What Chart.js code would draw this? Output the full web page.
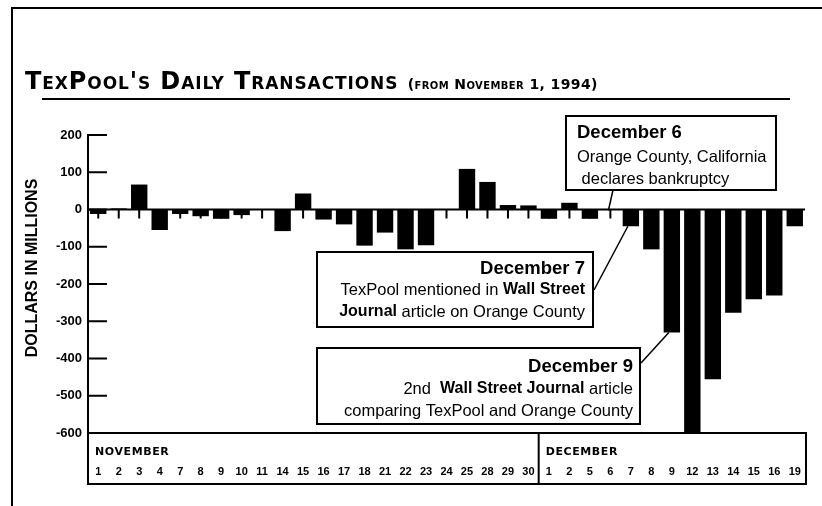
<!DOCTYPE html>
<html>
<head>
<meta charset="utf-8">
<script src="https://cdn.jsdelivr.net/npm/chart.js@4.4.0/dist/chart.umd.min.js"></script>
<style>
  body { margin: 0; background: #fff; }
  #wrap { position: relative; width: 822px; height: 506px; overflow: hidden; }
  #title {
    position: absolute; left: 25px; top: 70px; line-height: 23px;
    font-family: "DejaVu Sans", sans-serif; font-weight: bold; font-variant: small-caps;
    font-size: 24px; letter-spacing: 0.9px; white-space: nowrap; color: #000;
  }
  #title span { font-size: 14px; letter-spacing: 0.4px; }
  canvas { position: absolute; left: 0; top: 0; }
</style>
</head>
<body>
<div id="wrap">
  <canvas id="txChart" width="822" height="506"></canvas>
  <div id="title">TexPool's Daily Transactions <span>(from November 1, 1994)</span></div>
</div>
<script>
// business days, Nov 1 - Dec 19 1994
const days = ["1", "2", "3", "4", "7", "8", "9", "10", "11", "14", "15", "16", "17", "18",
  "21", "22", "23", "24", "25", "28", "29", "30",
  "1", "2", "5", "6", "7", "8", "9", "12", "13", "14", "15", "16", "19"];
const months = ["NOVEMBER", "DECEMBER"];
const monthStart = [0, 22];

// net daily flow, $ millions
const flows = [-12, 3, 67, -55, -12, -18, -25, -15, 0, -58, 43, -27, -40, -97,
  -62, -107, -96, 0, 109, 74, 12, 11,
  -25, 18, -25, 0, -45, -107, -330, -600, -456, -277, -241, -231, -45];

const yMin = -600;
const yMax = 200;
const yStep = 100;

// callouts: which day they point at + text lines
const notes = [
  {
    day: 25, atZero: true,
    box: [566, 116, 776, 190], align: "left", textX: 577, lineY: [133, 157, 179],
    from: [613, 190],
    lines: [
      [{ t: "December 6", head: true }],
      [{ t: "Orange County, California" }],
      [{ t: " declares bankruptcy" }],
    ],
  },
  {
    day: 26,
    box: [317, 252, 593, 327], align: "right", textX: 585, lineY: [269, 290, 312],
    from: [594, 290],
    lines: [
      [{ t: "December 7", head: true }],
      [{ t: "TexPool mentioned in " }, { t: "Wall Street", b: true }],
      [{ t: "Journal", b: true }, { t: " article on Orange County" }],
    ],
  },
  {
    day: 28,
    box: [317, 348, 640, 424], align: "right", textX: 633, lineY: [367, 389, 411],
    from: [641, 363],
    lines: [
      [{ t: "December 9", head: true }],
      [{ t: "2nd  " }, { t: "Wall Street Journal", b: true }, { t: " article" }],
      [{ t: "comparing TexPool and Orange County" }],
    ],
  },
];

const FONT = "'Liberation Sans', Arial, sans-serif";

function segFont(s) {
  if (s.head) return "bold 18.5px " + FONT;
  if (s.b) return "bold 16px " + FONT;
  return "16.5px " + FONT;
}

const decor = {
  id: "decor",
  afterDatasetsDraw(chart) {
    const ctx = chart.ctx;
    const area = chart.chartArea;
    const xs = chart.scales.x;
    const ys = chart.scales.y;
    const y0 = ys.getPixelForValue(0);
    ctx.save();
    ctx.strokeStyle = "#000";
    ctx.fillStyle = "#000";

    // outer frame (top + left) and rule under the title
    ctx.lineWidth = 2;
    ctx.beginPath();
    ctx.moveTo(822, 8); ctx.lineTo(12, 8); ctx.lineTo(12, 506);
    ctx.moveTo(42, 99); ctx.lineTo(790, 99);
    ctx.stroke();

    // zero line + little day ticks under it
    ctx.beginPath();
    ctx.moveTo(area.left, y0); ctx.lineTo(area.right, y0);
    days.forEach((d, i) => {
      const x = xs.getPixelForValue(i);
      ctx.moveTo(x, y0); ctx.lineTo(x, y0 + 9);
    });
    ctx.stroke();

    // inward y ticks
    ctx.beginPath();
    for (let v = yMax; v >= yMin; v -= yStep) {
      const y = ys.getPixelForValue(v);
      ctx.moveTo(area.left, y); ctx.lineTo(area.left + 19, y);
    }
    ctx.stroke();

    // date box under the plot
    const boxBottom = area.bottom + 51;
    const boxRight = area.right + 1;
    ctx.strokeRect(area.left, area.bottom, boxRight - area.left, boxBottom - area.bottom);
    const step = xs.getPixelForValue(1) - xs.getPixelForValue(0);
    ctx.font = "bold 11px 'DejaVu Sans', sans-serif";
    ctx.textBaseline = "middle";
    ctx.textAlign = "left";
    if ("letterSpacing" in ctx) ctx.letterSpacing = "0.6px";
    months.forEach((m, i) => {
      const xl = i === 0 ? area.left : xs.getPixelForValue(monthStart[i]) - step / 2;
      if (i > 0) {
        ctx.beginPath();
        ctx.moveTo(xl, area.bottom); ctx.lineTo(xl, boxBottom);
        ctx.stroke();
      }
      ctx.fillText(m, xl + 7, area.bottom + 19);
    });
    if ("letterSpacing" in ctx) ctx.letterSpacing = "0px";

    // y axis title
    ctx.save();
    ctx.translate(33, 268);
    ctx.rotate(-Math.PI / 2);
    ctx.textAlign = "center";
    ctx.font = "bold 16px " + FONT;
    ctx.fillText("DOLLARS IN MILLIONS", 0, 0);
    ctx.restore();

    // callouts
    notes.forEach((n) => {
      const ax = xs.getPixelForValue(n.day);
      const ay = n.atZero ? y0 + 1 : ys.getPixelForValue(flows[n.day]);
      ctx.lineWidth = 1.5;
      ctx.beginPath();
      ctx.moveTo(n.from[0], n.from[1]);
      ctx.lineTo(n.atZero ? ax - 2 : ax - 3, ay);
      ctx.stroke();

      const [x1, y1, x2, y2] = n.box;
      ctx.fillStyle = "#fff";
      ctx.fillRect(x1, y1, x2 - x1, y2 - y1);
      ctx.lineWidth = 2;
      ctx.strokeRect(x1, y1, x2 - x1, y2 - y1);
      ctx.fillStyle = "#000";
      ctx.textAlign = "left";
      ctx.textBaseline = "middle";
      n.lines.forEach((segs, li) => {
        let w = 0;
        segs.forEach((s) => { ctx.font = segFont(s); w += ctx.measureText(s.t).width; });
        let x = n.align === "right" ? n.textX - w : n.textX;
        segs.forEach((s) => {
          ctx.font = segFont(s);
          ctx.fillText(s.t, x, n.lineY[li]);
          x += ctx.measureText(s.t).width;
        });
      });
    });

    ctx.restore();
  },
};

new Chart(document.getElementById("txChart"), {
  type: "bar",
  data: {
    labels: days,
    datasets: [{
      data: flows,
      backgroundColor: "#000",
      borderWidth: 0,
      barPercentage: 0.8,
      categoryPercentage: 1,
    }],
  },
  options: {
    responsive: false,
    animation: false,
    layout: { padding: { left: 0, top: 135, right: 17, bottom: 0 } },
    plugins: { legend: { display: false }, tooltip: { enabled: false } },
    scales: {
      x: {
        grid: { display: false, drawTicks: false },
        border: { display: false },
        ticks: {
          color: "#000",
          font: { family: FONT, weight: "bold", size: 11 },
          padding: 32,
          autoSkip: false,
          maxRotation: 0,
        },
        // big label padding would otherwise eat the sides
        afterFit: (s) => { s.height = 73; s.paddingLeft = 0; s.paddingRight = 0; },
      },
      y: {
        min: yMin,
        max: yMax,
        grid: { display: false, drawTicks: false },
        border: { display: true, color: "#000", width: 2 },
        ticks: {
          stepSize: yStep,
          color: "#000",
          font: { family: FONT, weight: "bold", size: 13 },
          padding: 6,
        },
        afterFit: (s) => { s.width = 88; },
      },
    },
  },
  plugins: [decor],
});
</script>
</body>
</html>
